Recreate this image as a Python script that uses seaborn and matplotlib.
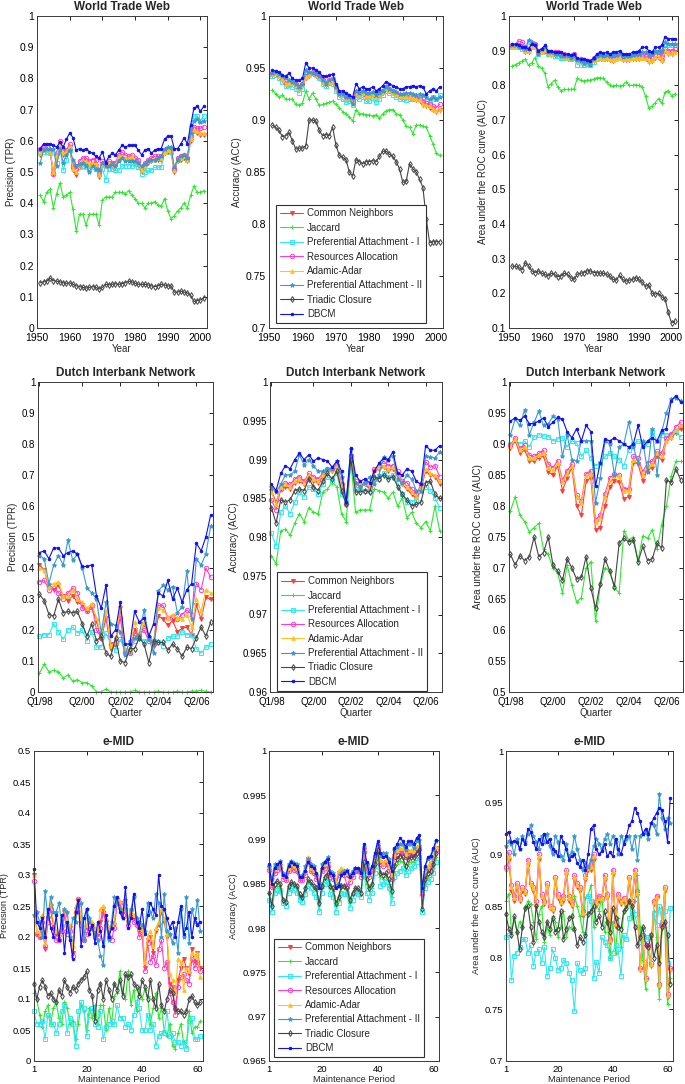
import numpy as np
import pandas as pd
import matplotlib
matplotlib.use("Agg")
import matplotlib.pyplot as plt
import seaborn as sns

sns.set_style("white")
plt.rcParams['font.family'] = ['Liberation Sans', 'DejaVu Sans']

# ---------------- categories ----------------
methods = ["Common Neighbors", "Jaccard", "Preferential Attachment - I",
           "Resources Allocation", "Adamic-Adar", "Preferential Attachment - II",
           "Triadic Closure", "DBCM"]
wtw_years = list(range(1951, 2002))
dib_quarters = list(range(1, 38))
dib_tick_pos = [1, 10, 18, 26, 34]
dib_tick_labels = ["Q1/98", "Q2/00", "Q2/02", "Q2/04", "Q2/06"]
emid_periods = list(range(1, 62))

# ---------------- World Trade Web : Precision ----------------
wtw_tpr_cn = [0.555,0.570,0.570,0.565,0.495,0.550,0.590,0.555,0.560,0.580,
              0.505,0.490,0.520,0.530,0.530,0.520,0.525,0.520,0.485,0.520,
              0.520,0.525,0.520,0.515,0.545,0.550,0.540,0.540,0.545,0.530,
              0.525,0.500,0.515,0.530,0.535,0.540,0.540,0.540,0.560,0.565,
              0.565,0.500,0.535,0.540,0.545,0.535,0.600,0.630,0.625,0.620,0.620]
wtw_tpr_jac = [0.425,0.405,0.435,0.445,0.385,0.430,0.465,0.420,0.425,0.435,
               0.380,0.310,0.365,0.365,0.330,0.365,0.365,0.365,0.330,0.410,
               0.420,0.420,0.420,0.435,0.435,0.435,0.430,0.440,0.425,0.415,
               0.400,0.400,0.385,0.400,0.400,0.405,0.395,0.390,0.415,0.375,
               0.350,0.360,0.375,0.385,0.400,0.385,0.425,0.455,0.435,0.435,0.440]
wtw_tpr_pa1 = [0.560,0.565,0.565,0.560,0.510,0.530,0.580,0.505,0.540,0.570,
               0.530,0.520,0.515,0.520,0.515,0.510,0.515,0.510,0.500,0.510,
               0.475,0.510,0.510,0.505,0.505,0.520,0.520,0.520,0.520,0.525,
               0.515,0.495,0.500,0.505,0.505,0.515,0.515,0.515,0.565,0.570,
               0.565,0.505,0.540,0.545,0.550,0.540,0.640,0.680,0.680,0.665,0.680]
wtw_tpr_ra = [0.575,0.580,0.580,0.570,0.495,0.560,0.600,0.570,0.570,0.590,
              0.520,0.510,0.535,0.545,0.545,0.535,0.540,0.540,0.500,0.535,
              0.530,0.535,0.530,0.530,0.555,0.565,0.555,0.550,0.555,0.545,
              0.540,0.515,0.530,0.540,0.545,0.550,0.550,0.550,0.570,0.575,
              0.575,0.510,0.545,0.550,0.555,0.545,0.615,0.645,0.640,0.640,0.645]
wtw_tpr_aa = [0.560,0.572,0.575,0.570,0.500,0.552,0.590,0.560,0.565,0.582,
              0.510,0.500,0.525,0.535,0.535,0.525,0.530,0.525,0.490,0.525,
              0.525,0.530,0.525,0.520,0.550,0.552,0.545,0.545,0.550,0.535,
              0.530,0.505,0.520,0.535,0.540,0.545,0.545,0.545,0.565,0.570,
              0.570,0.505,0.540,0.545,0.550,0.540,0.605,0.635,0.630,0.625,0.625]
wtw_tpr_pa2 = [0.530,0.570,0.575,0.575,0.575,0.520,0.575,0.530,0.555,0.570,
               0.540,0.520,0.525,0.530,0.520,0.500,0.520,0.510,0.505,0.530,
               0.520,0.520,0.525,0.520,0.535,0.545,0.535,0.535,0.535,0.535,
               0.530,0.520,0.525,0.535,0.540,0.540,0.545,0.550,0.575,0.580,
               0.580,0.515,0.540,0.550,0.555,0.545,0.625,0.665,0.670,0.660,0.665]
wtw_tpr_tc = [0.145,0.148,0.150,0.160,0.152,0.150,0.148,0.145,0.143,0.145,
              0.140,0.135,0.133,0.130,0.128,0.130,0.133,0.130,0.125,0.130,
              0.140,0.138,0.140,0.142,0.140,0.142,0.145,0.150,0.148,0.143,
              0.140,0.140,0.140,0.138,0.135,0.133,0.135,0.140,0.138,0.135,
              0.135,0.115,0.115,0.118,0.115,0.112,0.105,0.085,0.088,0.090,0.095]
wtw_tpr_dbcm = [0.575,0.590,0.590,0.590,0.585,0.580,0.595,0.580,0.605,0.625,
                0.610,0.570,0.575,0.570,0.575,0.565,0.560,0.550,0.545,0.565,
                0.530,0.550,0.560,0.555,0.570,0.585,0.580,0.585,0.585,0.585,
                0.570,0.555,0.570,0.575,0.560,0.570,0.575,0.575,0.605,0.615,
                0.615,0.575,0.575,0.590,0.610,0.590,0.650,0.705,0.710,0.695,0.710]

# ---------------- World Trade Web : Accuracy ----------------
wtw_acc_cn = [0.943,0.944,0.941,0.938,0.934,0.935,0.935,0.933,0.930,0.933,
              0.940,0.942,0.944,0.942,0.940,0.936,0.934,0.936,0.936,0.930,
              0.924,0.924,0.920,0.920,0.916,0.925,0.923,0.925,0.922,0.922,
              0.924,0.921,0.924,0.926,0.930,0.928,0.926,0.924,0.922,0.922,
              0.921,0.921,0.920,0.919,0.918,0.914,0.913,0.912,0.910,0.908,0.910]
wtw_acc_jac = [0.929,0.925,0.922,0.924,0.920,0.920,0.920,0.915,0.914,0.916,
               0.928,0.920,0.926,0.920,0.914,0.915,0.916,0.917,0.918,0.915,
               0.912,0.908,0.906,0.903,0.899,0.910,0.906,0.906,0.905,0.905,
               0.904,0.905,0.902,0.906,0.909,0.910,0.910,0.906,0.905,0.900,
               0.894,0.893,0.887,0.895,0.895,0.894,0.893,0.885,0.877,0.868,0.866]
wtw_acc_pa1 = [0.942,0.943,0.940,0.937,0.933,0.934,0.932,0.930,0.926,0.930,
               0.944,0.944,0.945,0.943,0.940,0.935,0.933,0.936,0.935,0.928,
               0.922,0.920,0.917,0.918,0.914,0.922,0.920,0.922,0.918,0.918,
               0.921,0.917,0.920,0.924,0.928,0.926,0.924,0.922,0.920,0.920,
               0.919,0.920,0.921,0.920,0.921,0.920,0.918,0.918,0.922,0.920,0.924]
wtw_acc_ra = [0.945,0.945,0.943,0.940,0.936,0.936,0.937,0.935,0.932,0.935,
              0.942,0.944,0.946,0.944,0.942,0.938,0.936,0.938,0.938,0.932,
              0.926,0.926,0.922,0.922,0.918,0.927,0.925,0.927,0.924,0.924,
              0.926,0.923,0.926,0.928,0.932,0.930,0.928,0.926,0.924,0.924,
              0.923,0.923,0.922,0.921,0.920,0.917,0.916,0.915,0.913,0.912,0.915]
wtw_acc_aa = [0.944,0.945,0.942,0.939,0.935,0.936,0.936,0.934,0.931,0.934,
              0.941,0.943,0.945,0.943,0.941,0.937,0.935,0.937,0.937,0.931,
              0.925,0.925,0.921,0.921,0.917,0.926,0.924,0.926,0.923,0.923,
              0.925,0.922,0.925,0.927,0.931,0.929,0.927,0.925,0.923,0.923,
              0.922,0.922,0.921,0.920,0.919,0.915,0.914,0.913,0.911,0.909,0.911]
wtw_acc_pa2 = [0.945,0.946,0.944,0.942,0.940,0.938,0.937,0.935,0.932,0.935,
               0.948,0.946,0.945,0.944,0.942,0.938,0.935,0.938,0.940,0.932,
               0.925,0.925,0.922,0.922,0.915,0.928,0.926,0.928,0.926,0.926,
               0.927,0.924,0.926,0.928,0.932,0.930,0.928,0.927,0.925,0.925,
               0.926,0.926,0.925,0.924,0.925,0.924,0.922,0.920,0.922,0.920,0.922]
wtw_acc_tc = [0.895,0.893,0.890,0.884,0.885,0.888,0.880,0.872,0.873,0.873,
              0.875,0.900,0.900,0.899,0.890,0.885,0.886,0.885,0.893,0.876,
              0.866,0.864,0.862,0.850,0.846,0.862,0.860,0.858,0.860,0.860,
              0.861,0.860,0.865,0.870,0.870,0.867,0.865,0.860,0.853,0.840,
              0.841,0.858,0.853,0.850,0.843,0.835,0.805,0.782,0.783,0.783,0.783]
wtw_acc_dbcm = [0.948,0.947,0.946,0.943,0.942,0.945,0.940,0.938,0.938,0.940,
                0.955,0.950,0.950,0.948,0.946,0.942,0.942,0.943,0.944,0.935,
                0.928,0.928,0.926,0.924,0.922,0.935,0.930,0.932,0.930,0.930,
                0.932,0.928,0.930,0.933,0.937,0.935,0.933,0.932,0.930,0.930,
                0.932,0.932,0.933,0.932,0.933,0.932,0.925,0.928,0.930,0.928,0.932]

# ---------------- World Trade Web : AUC ----------------
wtw_auc_cn = [0.910,0.910,0.910,0.908,0.895,0.895,0.910,0.910,0.890,0.895,
              0.900,0.890,0.888,0.888,0.890,0.880,0.880,0.876,0.876,0.882,
              0.868,0.868,0.865,0.865,0.862,0.870,0.875,0.878,0.875,0.875,
              0.872,0.870,0.875,0.878,0.872,0.874,0.874,0.876,0.876,0.875,
              0.878,0.875,0.868,0.870,0.880,0.880,0.870,0.900,0.890,0.890,0.895]
wtw_auc_jac = [0.855,0.860,0.865,0.870,0.875,0.858,0.865,0.880,0.855,0.850,
               0.835,0.795,0.805,0.815,0.795,0.785,0.788,0.788,0.788,0.790,
               0.820,0.815,0.812,0.815,0.815,0.818,0.822,0.822,0.820,0.810,
               0.800,0.798,0.800,0.798,0.800,0.810,0.800,0.800,0.802,0.800,
               0.795,0.768,0.735,0.740,0.750,0.762,0.748,0.780,0.785,0.770,0.775]
wtw_auc_pa1 = [0.910,0.912,0.910,0.905,0.900,0.925,0.915,0.910,0.890,0.895,
               0.900,0.890,0.890,0.885,0.885,0.878,0.880,0.878,0.876,0.880,
               0.860,0.858,0.860,0.862,0.858,0.868,0.875,0.878,0.875,0.880,
               0.878,0.878,0.880,0.885,0.878,0.880,0.880,0.882,0.885,0.885,
               0.890,0.890,0.885,0.885,0.895,0.895,0.900,0.920,0.915,0.915,0.915]
wtw_auc_ra = [0.915,0.915,0.928,0.925,0.910,0.905,0.915,0.920,0.900,0.900,
              0.900,0.895,0.895,0.895,0.895,0.890,0.890,0.885,0.885,0.890,
              0.875,0.875,0.872,0.870,0.870,0.878,0.882,0.885,0.882,0.885,
              0.882,0.880,0.885,0.888,0.880,0.882,0.882,0.885,0.885,0.885,
              0.888,0.885,0.880,0.882,0.890,0.895,0.885,0.905,0.900,0.900,0.905]
wtw_auc_aa = [0.912,0.912,0.913,0.910,0.898,0.898,0.912,0.912,0.893,0.897,
              0.902,0.892,0.890,0.890,0.892,0.883,0.883,0.879,0.879,0.884,
              0.870,0.870,0.867,0.867,0.864,0.872,0.877,0.880,0.877,0.878,
              0.875,0.873,0.877,0.880,0.875,0.876,0.876,0.878,0.878,0.878,
              0.880,0.878,0.871,0.873,0.882,0.883,0.873,0.902,0.893,0.893,0.897]
wtw_auc_pa2 = [0.915,0.915,0.910,0.910,0.905,0.930,0.925,0.920,0.890,0.905,
               0.910,0.895,0.895,0.890,0.890,0.885,0.885,0.885,0.880,0.885,
               0.872,0.870,0.865,0.868,0.860,0.875,0.885,0.888,0.885,0.888,
               0.885,0.888,0.888,0.892,0.882,0.885,0.885,0.888,0.890,0.890,
               0.895,0.895,0.890,0.890,0.900,0.900,0.900,0.925,0.920,0.920,0.920]
wtw_auc_tc = [0.278,0.278,0.275,0.268,0.288,0.280,0.265,0.260,0.265,0.258,
              0.255,0.250,0.258,0.255,0.248,0.250,0.258,0.255,0.245,0.240,
              0.255,0.258,0.260,0.265,0.265,0.260,0.260,0.258,0.258,0.255,
              0.250,0.240,0.238,0.252,0.240,0.235,0.238,0.240,0.245,0.240,
              0.232,0.220,0.225,0.200,0.198,0.200,0.190,0.185,0.145,0.115,0.120]
wtw_auc_dbcm = [0.920,0.918,0.915,0.912,0.910,0.905,0.920,0.915,0.900,0.905,
                0.915,0.900,0.900,0.895,0.895,0.895,0.890,0.890,0.888,0.890,
                0.878,0.875,0.875,0.872,0.870,0.878,0.890,0.895,0.892,0.895,
                0.890,0.895,0.895,0.900,0.890,0.890,0.890,0.895,0.895,0.900,
                0.910,0.910,0.900,0.895,0.910,0.910,0.915,0.940,0.935,0.935,0.935]

# ---------------- Dutch Interbank : Precision ----------------
dib_tpr_cn = [0.410,0.395,0.335,0.330,0.345,0.310,0.295,0.310,0.290,0.280,
              0.260,0.270,0.230,0.170,0.240,0.140,0.150,0.270,0.130,0.130,
              0.200,0.175,0.220,0.175,0.150,0.245,0.235,0.215,0.230,0.195,
              0.205,0.210,0.185,0.280,0.235,0.305,0.300]
dib_tpr_jac = [0.060,0.090,0.065,0.070,0.065,0.045,0.055,0.035,0.040,0.030,
               0.030,0.020,0.000,0.000,0.010,0.000,0.000,0.000,0.000,0.000,
               0.005,0.000,0.000,0.000,0.000,0.003,0.000,0.000,0.000,0.003,
               0.000,0.000,0.003,0.003,0.005,0.002,0.000]
dib_tpr_pa1 = [0.180,0.185,0.185,0.220,0.195,0.170,0.200,0.210,0.190,0.200,
               0.165,0.195,0.145,0.145,0.190,0.155,0.135,0.170,0.135,0.130,
               0.165,0.175,0.165,0.170,0.165,0.160,0.150,0.175,0.180,0.180,
               0.195,0.185,0.185,0.140,0.125,0.145,0.155]
dib_tpr_ra = [0.355,0.360,0.330,0.335,0.320,0.300,0.320,0.335,0.320,0.270,
              0.260,0.280,0.200,0.175,0.250,0.155,0.160,0.240,0.130,0.125,
              0.190,0.185,0.200,0.165,0.155,0.280,0.280,0.240,0.245,0.235,
              0.250,0.265,0.250,0.350,0.330,0.400,0.370]
dib_tpr_aa = [0.400,0.395,0.340,0.350,0.355,0.310,0.310,0.330,0.300,0.290,
              0.270,0.285,0.240,0.180,0.260,0.150,0.160,0.280,0.140,0.135,
              0.225,0.180,0.225,0.180,0.165,0.270,0.265,0.240,0.250,0.240,
              0.235,0.250,0.210,0.300,0.260,0.330,0.320]
dib_tpr_pa2 = [0.440,0.430,0.350,0.410,0.440,0.410,0.490,0.425,0.445,0.400,
               0.335,0.320,0.300,0.190,0.290,0.220,0.215,0.195,0.120,0.165,
               0.175,0.185,0.265,0.175,0.125,0.325,0.345,0.330,0.340,0.255,
               0.275,0.390,0.235,0.430,0.410,0.445,0.535]
dib_tpr_tc = [0.315,0.295,0.250,0.245,0.300,0.255,0.260,0.255,0.260,0.220,
              0.180,0.220,0.165,0.180,0.125,0.115,0.175,0.100,0.095,0.140,
              0.140,0.175,0.155,0.095,0.165,0.160,0.160,0.135,0.155,0.140,
              0.115,0.145,0.140,0.175,0.210,0.180,0.225]
dib_tpr_dbcm = [0.450,0.455,0.430,0.465,0.465,0.440,0.450,0.455,0.445,0.405,
                0.405,0.410,0.310,0.270,0.345,0.180,0.200,0.290,0.155,0.155,
                0.260,0.225,0.240,0.180,0.220,0.320,0.310,0.360,0.300,0.335,
                0.290,0.330,0.350,0.480,0.455,0.500,0.570]

# ---------------- Dutch Interbank : Accuracy ----------------
dib_acc_cn = [0.9860,0.9845,0.9862,0.9865,0.9862,0.9870,0.9872,0.9868,0.9878,0.9872,
              0.9870,0.9878,0.9885,0.9885,0.9890,0.9862,0.9842,0.9905,0.9868,0.9865,
              0.9868,0.9862,0.9885,0.9888,0.9890,0.9885,0.9888,0.9880,0.9868,0.9862,
              0.9855,0.9850,0.9862,0.9885,0.9880,0.9878,0.9868]
dib_acc_jac = [0.9776,0.9765,0.9808,0.9810,0.9802,0.9818,0.9830,0.9820,0.9838,0.9832,
               0.9830,0.9858,0.9862,0.9870,0.9865,0.9830,0.9820,0.9898,0.9832,0.9835,
               0.9835,0.9835,0.9862,0.9860,0.9858,0.9850,0.9858,0.9840,0.9850,0.9825,
               0.9832,0.9818,0.9812,0.9820,0.9808,0.9840,0.9808]
dib_acc_pa1 = [0.9805,0.9788,0.9832,0.9840,0.9830,0.9845,0.9858,0.9852,0.9865,0.9862,
               0.9855,0.9868,0.9878,0.9872,0.9882,0.9855,0.9845,0.9895,0.9862,0.9862,
               0.9860,0.9860,0.9875,0.9875,0.9882,0.9878,0.9880,0.9870,0.9855,0.9845,
               0.9845,0.9848,0.9860,0.9865,0.9860,0.9850,0.9838]
dib_acc_ra = [0.9848,0.9835,0.9862,0.9870,0.9868,0.9875,0.9878,0.9872,0.9882,0.9878,
              0.9875,0.9882,0.9888,0.9888,0.9893,0.9868,0.9843,0.9905,0.9872,0.9868,
              0.9870,0.9865,0.9888,0.9890,0.9898,0.9892,0.9892,0.9885,0.9872,0.9870,
              0.9862,0.9855,0.9868,0.9897,0.9890,0.9892,0.9878]
dib_acc_aa = [0.9858,0.9842,0.9865,0.9868,0.9865,0.9872,0.9875,0.9870,0.9880,0.9875,
              0.9872,0.9880,0.9886,0.9887,0.9892,0.9865,0.9843,0.9906,0.9870,0.9867,
              0.9870,0.9865,0.9887,0.9890,0.9892,0.9888,0.9890,0.9882,0.9870,0.9865,
              0.9858,0.9852,0.9865,0.9888,0.9882,0.9880,0.9872]
dib_acc_pa2 = [0.9865,0.9858,0.9868,0.9880,0.9880,0.9885,0.9906,0.9893,0.9900,0.9892,
               0.9885,0.9885,0.9888,0.9888,0.9898,0.9878,0.9842,0.9913,0.9870,0.9865,
               0.9870,0.9878,0.9868,0.9880,0.9903,0.9900,0.9905,0.9875,0.9870,0.9880,
               0.9875,0.9860,0.9860,0.9905,0.9903,0.9902,0.9910]
dib_acc_tc = [0.9838,0.9818,0.9848,0.9845,0.9848,0.9860,0.9862,0.9860,0.9875,0.9865,
              0.9860,0.9872,0.9882,0.9875,0.9885,0.9860,0.9842,0.9900,0.9858,0.9858,
              0.9860,0.9858,0.9878,0.9875,0.9880,0.9875,0.9878,0.9865,0.9855,0.9848,
              0.9840,0.9842,0.9845,0.9870,0.9872,0.9855,0.9850]
dib_acc_dbcm = [0.9868,0.9860,0.9882,0.9892,0.9888,0.9900,0.9908,0.9900,0.9906,0.9898,
                0.9902,0.9900,0.9898,0.9890,0.9898,0.9885,0.9845,0.9915,0.9880,0.9872,
                0.9875,0.9870,0.9885,0.9895,0.9902,0.9900,0.9910,0.9882,0.9880,0.9888,
                0.9885,0.9872,0.9868,0.9918,0.9912,0.9912,0.9918]

# ---------------- Dutch Interbank : AUC ----------------
dib_auc_cn = [0.893,0.905,0.885,0.890,0.873,0.872,0.878,0.880,0.855,0.850,
              0.865,0.825,0.845,0.862,0.800,0.785,0.840,0.845,0.762,0.765,
              0.800,0.830,0.840,0.838,0.812,0.815,0.870,0.868,0.840,0.860,
              0.862,0.880,0.875,0.905,0.910,0.918,0.925]
dib_auc_jac = [0.792,0.815,0.785,0.775,0.758,0.765,0.772,0.730,0.722,0.700,
               0.692,0.660,0.705,0.672,0.645,0.652,0.700,0.710,0.615,0.672,
               0.700,0.695,0.668,0.660,0.760,0.745,0.750,0.712,0.752,0.748,
               0.762,0.730,0.770,0.800,0.848,0.872,0.872]
dib_auc_pa1 = [0.900,0.905,0.900,0.905,0.895,0.912,0.915,0.913,0.912,0.905,
               0.908,0.910,0.895,0.905,0.902,0.880,0.890,0.878,0.865,0.870,
               0.880,0.885,0.880,0.875,0.865,0.890,0.900,0.905,0.900,0.900,
               0.920,0.905,0.915,0.915,0.915,0.920,0.912]
dib_auc_ra = [0.898,0.910,0.893,0.898,0.882,0.880,0.885,0.890,0.868,0.862,
              0.873,0.842,0.857,0.868,0.818,0.808,0.852,0.857,0.778,0.785,
              0.820,0.845,0.852,0.850,0.828,0.828,0.880,0.877,0.855,0.870,
              0.872,0.888,0.885,0.910,0.916,0.928,0.935]
dib_auc_aa = [0.897,0.908,0.890,0.895,0.878,0.877,0.882,0.885,0.862,0.858,
              0.870,0.838,0.852,0.865,0.815,0.805,0.848,0.852,0.775,0.780,
              0.815,0.840,0.848,0.848,0.825,0.825,0.875,0.872,0.850,0.865,
              0.868,0.885,0.880,0.905,0.912,0.922,0.930]
dib_auc_pa2 = [0.915,0.940,0.930,0.955,0.915,0.935,0.953,0.930,0.932,0.945,
               0.940,0.880,0.915,0.875,0.872,0.905,0.905,0.905,0.805,0.845,
               0.905,0.900,0.850,0.895,0.900,0.935,0.895,0.870,0.905,0.855,
               0.925,0.850,0.920,0.950,0.972,0.975,0.970]
dib_auc_tc = [0.722,0.705,0.720,0.712,0.718,0.750,0.718,0.725,0.750,0.705,
              0.695,0.680,0.715,0.700,0.682,0.685,0.718,0.668,0.635,0.675,
              0.715,0.695,0.670,0.740,0.748,0.742,0.745,0.710,0.735,0.712,
              0.715,0.740,0.732,0.842,0.838,0.860,0.842]
dib_auc_dbcm = [0.937,0.942,0.938,0.945,0.933,0.933,0.937,0.942,0.928,0.935,
                0.943,0.940,0.920,0.910,0.925,0.905,0.930,0.920,0.832,0.870,
                0.908,0.905,0.910,0.905,0.900,0.895,0.900,0.930,0.895,0.905,
                0.910,0.905,0.922,0.925,0.970,0.978,0.968]

# ---------------- e-MID : Precision ----------------
emid_tpr_cn = [0.300,0.205,0.200,0.230,0.180,0.230,0.250,0.220,0.205,0.200,
               0.215,0.240,0.210,0.215,0.175,0.245,0.260,0.225,0.200,0.215,
               0.225,0.220,0.210,0.205,0.225,0.245,0.225,0.210,0.215,0.220,
               0.260,0.255,0.240,0.250,0.225,0.240,0.230,0.225,0.210,0.215,
               0.150,0.195,0.200,0.175,0.210,0.220,0.240,0.225,0.200,0.125,
               0.120,0.080,0.130,0.150,0.165,0.150,0.140,0.180,0.160,0.175,0.150]
emid_tpr_jac = [0.110,0.100,0.075,0.055,0.080,0.090,0.060,0.085,0.095,0.070,
                0.060,0.095,0.085,0.060,0.065,0.035,0.060,0.090,0.080,0.050,
                0.085,0.070,0.090,0.060,0.090,0.090,0.050,0.085,0.060,0.105,
                0.110,0.145,0.110,0.100,0.145,0.090,0.115,0.080,0.120,0.100,
                0.115,0.105,0.060,0.085,0.110,0.070,0.085,0.050,0.040,0.060,
                0.025,0.020,0.045,0.060,0.030,0.025,0.080,0.045,0.055,0.055,0.065]
emid_tpr_pa1 = [0.080,0.060,0.060,0.065,0.035,0.075,0.060,0.060,0.045,0.060,
                0.080,0.090,0.045,0.070,0.060,0.025,0.080,0.095,0.085,0.040,
                0.075,0.085,0.060,0.055,0.080,0.035,0.055,0.060,0.065,0.060,
                0.090,0.070,0.070,0.055,0.060,0.050,0.075,0.095,0.085,0.050,
                0.050,0.075,0.050,0.060,0.025,0.040,0.045,0.045,0.080,0.040,
                0.045,0.030,0.030,0.025,0.030,0.020,0.065,0.070,0.035,0.035,0.040]
emid_tpr_ra = [0.290,0.205,0.200,0.225,0.185,0.225,0.245,0.215,0.195,0.195,
               0.210,0.235,0.205,0.210,0.170,0.240,0.262,0.220,0.195,0.205,
               0.215,0.215,0.200,0.200,0.215,0.240,0.220,0.200,0.195,0.215,
               0.255,0.255,0.235,0.245,0.220,0.235,0.225,0.220,0.200,0.205,
               0.145,0.190,0.160,0.170,0.155,0.180,0.195,0.150,0.160,0.110,
               0.095,0.075,0.120,0.135,0.140,0.130,0.125,0.165,0.150,0.160,0.145]
emid_tpr_aa = [0.300,0.210,0.205,0.235,0.190,0.235,0.255,0.225,0.210,0.205,
               0.220,0.245,0.215,0.220,0.185,0.250,0.262,0.230,0.205,0.220,
               0.230,0.225,0.215,0.210,0.245,0.250,0.230,0.215,0.220,0.225,
               0.262,0.258,0.245,0.255,0.230,0.245,0.235,0.230,0.215,0.220,
               0.160,0.200,0.210,0.185,0.215,0.225,0.245,0.230,0.205,0.140,
               0.130,0.110,0.165,0.160,0.115,0.150,0.145,0.175,0.170,0.175,0.135]
emid_tpr_pa2 = [0.235,0.240,0.225,0.200,0.275,0.230,0.265,0.240,0.240,0.255,
                0.220,0.245,0.240,0.200,0.230,0.225,0.250,0.255,0.195,0.245,
                0.230,0.215,0.205,0.195,0.170,0.155,0.225,0.195,0.225,0.265,
                0.255,0.245,0.230,0.260,0.225,0.245,0.265,0.230,0.225,0.220,
                0.210,0.255,0.240,0.230,0.270,0.255,0.200,0.270,0.210,0.205,
                0.190,0.215,0.175,0.245,0.200,0.265,0.190,0.245,0.225,0.260,0.210]
emid_tpr_tc = [0.125,0.100,0.120,0.130,0.120,0.105,0.110,0.100,0.095,0.115,
               0.105,0.130,0.120,0.110,0.120,0.115,0.125,0.130,0.135,0.145,
               0.115,0.105,0.065,0.115,0.125,0.100,0.130,0.115,0.100,0.125,
               0.115,0.130,0.105,0.140,0.135,0.140,0.125,0.120,0.105,0.130,
               0.120,0.100,0.130,0.100,0.085,0.125,0.090,0.080,0.100,0.115,
               0.110,0.085,0.080,0.080,0.075,0.080,0.100,0.105,0.095,0.090,0.095]
emid_tpr_dbcm = [0.310,0.225,0.215,0.230,0.200,0.245,0.215,0.200,0.235,0.195,
                 0.235,0.175,0.225,0.195,0.165,0.240,0.260,0.185,0.230,0.245,
                 0.205,0.220,0.190,0.225,0.210,0.185,0.235,0.200,0.215,0.250,
                 0.265,0.240,0.230,0.280,0.215,0.230,0.270,0.225,0.215,0.245,
                 0.205,0.235,0.255,0.245,0.235,0.300,0.250,0.245,0.230,0.215,
                 0.225,0.200,0.225,0.250,0.205,0.215,0.240,0.200,0.230,0.220,0.225]

# ---------------- e-MID : Accuracy ----------------
emid_acc_cn = [0.9868,0.9848,0.9865,0.9868,0.9870,0.9858,0.9856,0.9866,0.9870,0.9868,
               0.9866,0.9856,0.9856,0.9862,0.9878,0.9866,0.9864,0.9858,0.9850,0.9866,
               0.9870,0.9872,0.9860,0.9858,0.9850,0.9862,0.9865,0.9862,0.9860,0.9855,
               0.9860,0.9866,0.9866,0.9860,0.9888,0.9870,0.9860,0.9866,0.9880,0.9892,
               0.9875,0.9872,0.9875,0.9868,0.9858,0.9882,0.9886,0.9888,0.9888,0.9882,
               0.9886,0.9886,0.9885,0.9890,0.9892,0.9840,0.9862,0.9868,0.9872,0.9880,0.9890]
emid_acc_jac = [0.9840,0.9825,0.9845,0.9848,0.9845,0.9830,0.9828,0.9845,0.9850,0.9848,
                0.9845,0.9835,0.9833,0.9842,0.9852,0.9850,0.9845,0.9842,0.9822,0.9845,
                0.9855,0.9858,0.9845,0.9842,0.9825,0.9832,0.9845,0.9845,0.9842,0.9828,
                0.9838,0.9845,0.9842,0.9838,0.9870,0.9850,0.9842,0.9845,0.9868,0.9885,
                0.9858,0.9856,0.9858,0.9850,0.9835,0.9865,0.9872,0.9876,0.9875,0.9865,
                0.9872,0.9875,0.9875,0.9880,0.9885,0.9820,0.9850,0.9858,0.9860,0.9868,0.9880]
emid_acc_pa1 = [0.9832,0.9818,0.9840,0.9843,0.9842,0.9828,0.9825,0.9840,0.9845,0.9843,
                0.9840,0.9832,0.9830,0.9838,0.9848,0.9845,0.9840,0.9835,0.9818,0.9840,
                0.9850,0.9852,0.9838,0.9835,0.9818,0.9828,0.9840,0.9838,0.9838,0.9823,
                0.9832,0.9840,0.9838,0.9835,0.9865,0.9840,0.9832,0.9840,0.9862,0.9880,
                0.9848,0.9850,0.9852,0.9845,0.9828,0.9858,0.9862,0.9865,0.9868,0.9860,
                0.9865,0.9868,0.9870,0.9875,0.9880,0.9818,0.9845,0.9852,0.9855,0.9862,0.9875]
emid_acc_ra = [0.9866,0.9846,0.9862,0.9866,0.9868,0.9856,0.9854,0.9864,0.9868,0.9866,
               0.9864,0.9854,0.9854,0.9860,0.9876,0.9864,0.9862,0.9856,0.9848,0.9864,
               0.9868,0.9870,0.9858,0.9856,0.9848,0.9860,0.9862,0.9860,0.9848,0.9852,
               0.9858,0.9864,0.9864,0.9858,0.9886,0.9868,0.9858,0.9864,0.9878,0.9890,
               0.9872,0.9870,0.9872,0.9866,0.9855,0.9880,0.9884,0.9886,0.9886,0.9880,
               0.9884,0.9884,0.9883,0.9888,0.9890,0.9838,0.9860,0.9866,0.9870,0.9878,0.9888]
emid_acc_aa = [0.9870,0.9850,0.9867,0.9870,0.9872,0.9860,0.9858,0.9868,0.9872,0.9870,
               0.9868,0.9858,0.9858,0.9864,0.9880,0.9868,0.9866,0.9860,0.9852,0.9868,
               0.9872,0.9874,0.9862,0.9860,0.9852,0.9865,0.9868,0.9866,0.9862,0.9857,
               0.9862,0.9868,0.9868,0.9862,0.9890,0.9872,0.9862,0.9868,0.9882,0.9894,
               0.9877,0.9874,0.9877,0.9870,0.9860,0.9884,0.9888,0.9890,0.9890,0.9884,
               0.9888,0.9888,0.9887,0.9892,0.9894,0.9842,0.9864,0.9870,0.9874,0.9882,0.9892]
emid_acc_pa2 = [0.9870,0.9855,0.9872,0.9870,0.9876,0.9862,0.9860,0.9872,0.9876,0.9874,
                0.9872,0.9858,0.9860,0.9870,0.9878,0.9872,0.9870,0.9860,0.9850,0.9872,
                0.9875,0.9880,0.9865,0.9862,0.9848,0.9850,0.9862,0.9865,0.9866,0.9860,
                0.9865,0.9868,0.9866,0.9864,0.9892,0.9872,0.9862,0.9868,0.9882,0.9895,
                0.9882,0.9885,0.9885,0.9878,0.9868,0.9888,0.9892,0.9895,0.9895,0.9888,
                0.9895,0.9895,0.9890,0.9898,0.9900,0.9842,0.9868,0.9878,0.9880,0.9888,0.9898]
emid_acc_tc = [0.9840,0.9825,0.9850,0.9853,0.9850,0.9832,0.9830,0.9848,0.9852,0.9850,
               0.9848,0.9838,0.9835,0.9845,0.9855,0.9852,0.9848,0.9845,0.9828,0.9848,
               0.9858,0.9862,0.9848,0.9845,0.9828,0.9835,0.9848,0.9848,0.9845,0.9832,
               0.9840,0.9845,0.9845,0.9840,0.9875,0.9855,0.9845,0.9850,0.9872,0.9888,
               0.9862,0.9860,0.9862,0.9855,0.9842,0.9870,0.9878,0.9882,0.9880,0.9870,
               0.9878,0.9880,0.9880,0.9885,0.9888,0.9822,0.9855,0.9862,0.9865,0.9872,0.9885]
emid_acc_dbcm = [0.9872,0.9850,0.9868,0.9872,0.9875,0.9860,0.9858,0.9870,0.9875,0.9872,
                 0.9870,0.9858,0.9858,0.9865,0.9875,0.9870,0.9868,0.9862,0.9845,0.9868,
                 0.9875,0.9878,0.9862,0.9860,0.9845,0.9848,0.9860,0.9862,0.9865,0.9858,
                 0.9862,0.9868,0.9868,0.9862,0.9895,0.9875,0.9862,0.9870,0.9885,0.9898,
                 0.9885,0.9880,0.9882,0.9875,0.9865,0.9890,0.9895,0.9902,0.9898,0.9892,
                 0.9898,0.9898,0.9895,0.9902,0.9905,0.9845,0.9870,0.9880,0.9882,0.9890,0.9900]

# ---------------- e-MID : AUC ----------------
emid_auc_cn = [0.885,0.895,0.865,0.855,0.868,0.855,0.865,0.862,0.890,0.870,
               0.865,0.850,0.895,0.858,0.852,0.868,0.848,0.845,0.875,0.858,
               0.852,0.855,0.880,0.855,0.850,0.875,0.868,0.865,0.840,0.875,
               0.885,0.885,0.895,0.850,0.855,0.855,0.875,0.858,0.815,0.880,
               0.830,0.858,0.852,0.855,0.850,0.875,0.852,0.880,0.860,0.788,
               0.820,0.778,0.810,0.792,0.852,0.858,0.772,0.830,0.865,0.762,0.788]
emid_auc_jac = [0.855,0.862,0.825,0.838,0.825,0.835,0.830,0.848,0.855,0.852,
                0.835,0.818,0.842,0.850,0.815,0.830,0.822,0.840,0.835,0.820,
                0.830,0.845,0.820,0.830,0.828,0.860,0.850,0.840,0.825,0.858,
                0.860,0.870,0.830,0.852,0.845,0.860,0.825,0.838,0.800,0.835,
                0.805,0.838,0.810,0.845,0.850,0.855,0.838,0.855,0.880,0.830,
                0.798,0.770,0.808,0.792,0.845,0.820,0.760,0.848,0.830,0.755,0.780]
emid_auc_pa1 = [0.820,0.822,0.778,0.802,0.805,0.810,0.818,0.818,0.805,0.812,
                0.792,0.805,0.808,0.795,0.810,0.782,0.790,0.808,0.800,0.788,
                0.790,0.798,0.795,0.785,0.778,0.748,0.795,0.788,0.785,0.790,
                0.860,0.855,0.780,0.796,0.785,0.820,0.815,0.812,0.800,0.805,
                0.812,0.808,0.782,0.822,0.818,0.838,0.845,0.842,0.830,0.815,
                0.828,0.818,0.820,0.822,0.842,0.832,0.850,0.835,0.845,0.795,0.848]
emid_auc_ra = [0.888,0.902,0.870,0.860,0.872,0.858,0.868,0.865,0.895,0.872,
               0.868,0.855,0.900,0.862,0.855,0.872,0.850,0.848,0.878,0.862,
               0.855,0.860,0.885,0.860,0.855,0.880,0.872,0.868,0.845,0.880,
               0.888,0.890,0.900,0.855,0.860,0.858,0.880,0.862,0.818,0.885,
               0.835,0.862,0.855,0.858,0.855,0.878,0.855,0.885,0.865,0.790,
               0.822,0.780,0.812,0.795,0.855,0.860,0.775,0.832,0.868,0.765,0.790]
emid_auc_aa = [0.887,0.898,0.868,0.858,0.870,0.857,0.867,0.864,0.893,0.871,
               0.867,0.853,0.898,0.860,0.854,0.870,0.849,0.847,0.877,0.860,
               0.854,0.858,0.883,0.858,0.852,0.878,0.870,0.867,0.843,0.878,
               0.887,0.888,0.898,0.853,0.858,0.857,0.878,0.860,0.817,0.883,
               0.833,0.860,0.854,0.857,0.853,0.877,0.854,0.883,0.863,0.789,
               0.821,0.779,0.811,0.794,0.854,0.859,0.774,0.831,0.867,0.764,0.789]
emid_auc_pa2 = [0.908,0.913,0.910,0.900,0.915,0.905,0.918,0.912,0.920,0.928,
                0.918,0.912,0.905,0.918,0.912,0.920,0.908,0.900,0.918,0.912,
                0.898,0.895,0.910,0.898,0.902,0.918,0.905,0.895,0.885,0.892,
                0.888,0.895,0.908,0.915,0.910,0.905,0.915,0.920,0.910,0.918,
                0.912,0.900,0.918,0.912,0.915,0.918,0.905,0.918,0.895,0.918,
                0.920,0.922,0.915,0.930,0.928,0.920,0.958,0.935,0.925,0.935,0.930]
emid_auc_tc = [0.842,0.828,0.822,0.840,0.825,0.808,0.830,0.848,0.850,0.830,
               0.815,0.850,0.835,0.825,0.820,0.835,0.828,0.838,0.825,0.828,
               0.845,0.818,0.828,0.838,0.840,0.828,0.812,0.820,0.815,0.822,
               0.842,0.845,0.850,0.835,0.840,0.830,0.845,0.835,0.825,0.848,
               0.838,0.830,0.828,0.845,0.848,0.855,0.850,0.830,0.812,0.820,
               0.830,0.812,0.810,0.822,0.800,0.812,0.795,0.830,0.835,0.822,0.775]
emid_auc_dbcm = [0.920,0.922,0.912,0.913,0.912,0.905,0.915,0.910,0.925,0.922,
                 0.912,0.905,0.915,0.910,0.920,0.912,0.915,0.905,0.903,0.898,
                 0.918,0.912,0.905,0.895,0.898,0.900,0.892,0.888,0.895,0.885,
                 0.900,0.925,0.928,0.905,0.900,0.903,0.910,0.898,0.902,0.898,
                 0.915,0.905,0.900,0.910,0.918,0.928,0.932,0.945,0.940,0.932,
                 0.920,0.925,0.920,0.930,0.935,0.940,0.945,0.943,0.932,0.912,0.955]

# ---------------- styling ----------------
styles = {
    "Common Neighbors": dict(color="#FF3C3C", marker="v", mfc="#FF3C3C", ms=2.8),
    "Jaccard": dict(color="#2EE82E", marker="+", mfc="#2EE82E", ms=3.4),
    "Preferential Attachment - I": dict(color="#30E8F0", marker="s", mfc="none", ms=3.2),
    "Resources Allocation": dict(color="#FF3CC8", marker="o", mfc="none", ms=3.2),
    "Adamic-Adar": dict(color="#FFC21A", marker="^", mfc="#FFC21A", ms=2.6),
    "Preferential Attachment - II": dict(color="#3A9AD0", marker="*", mfc="#3A9AD0", ms=3.2),
    "Triadic Closure": dict(color="#444444", marker="d", mfc="none", ms=3.0),
    "DBCM": dict(color="#1010F0", marker=".", mfc="#1010F0", ms=3.6),
}

W, H = 685, 1084
fig = plt.figure(figsize=(W / 100, H / 100), dpi=100)


def rect(x0, y0, x1, y1):
    return [x0 / W, 1 - y1 / H, (x1 - x0) / W, (y1 - y0) / H]


row_fonts = {"wtw": dict(tick=7.5, lab=7.0, leg=7.0, xpad=3.5),
             "dib": dict(tick=7.0, lab=7.0, leg=7.0, xpad=3.5),
             "emid": dict(tick=6.8, lab=6.6, leg=7.0, xpad=3.0)}

panels = [
    # row 1
    dict(r=rect(37, 16, 207, 328), title="World Trade Web", x=wtw_years, xlab="Year",
         ylab="Precision (TPR)", ylim=(0, 1), yticks=np.arange(0, 1.001, 0.1),
         series=[wtw_tpr_cn, wtw_tpr_jac, wtw_tpr_pa1, wtw_tpr_ra, wtw_tpr_aa, wtw_tpr_pa2, wtw_tpr_tc, wtw_tpr_dbcm],
         kind="wtw", legend=None),
    dict(r=rect(269, 16, 443, 328), title="World Trade Web", x=wtw_years, xlab="Year",
         ylab="Accuracy (ACC)", ylim=(0.7, 1), yticks=np.arange(0.7, 1.001, 0.05),
         series=[wtw_acc_cn, wtw_acc_jac, wtw_acc_pa1, wtw_acc_ra, wtw_acc_aa, wtw_acc_pa2, wtw_acc_tc, wtw_acc_dbcm],
         kind="wtw", legend=(0.040, 0.016)),
    dict(r=rect(509, 16, 678, 328), title="World Trade Web", x=wtw_years, xlab="Year",
         ylab="Area under the ROC curve (AUC)", ylim=(0.1, 1), yticks=np.arange(0.1, 1.001, 0.1),
         series=[wtw_auc_cn, wtw_auc_jac, wtw_auc_pa1, wtw_auc_ra, wtw_auc_aa, wtw_auc_pa2, wtw_auc_tc, wtw_auc_dbcm],
         kind="wtw", legend=None),
    # row 2
    dict(r=rect(38, 382, 213, 692), title="Dutch Interbank Network", x=dib_quarters, xlab="Quarter",
         ylab="Precision (TPR)", ylim=(0, 1), yticks=np.arange(0, 1.001, 0.1),
         series=[dib_tpr_cn, dib_tpr_jac, dib_tpr_pa1, dib_tpr_ra, dib_tpr_aa, dib_tpr_pa2, dib_tpr_tc, dib_tpr_dbcm],
         kind="dib", legend=None),
    dict(r=rect(270, 382, 442, 692), title="Dutch Interbank Network", x=dib_quarters, xlab="Quarter",
         ylab="Accuracy (ACC)", ylim=(0.96, 1), yticks=np.arange(0.96, 1.0001, 0.005),
         series=[dib_acc_cn, dib_acc_jac, dib_acc_pa1, dib_acc_ra, dib_acc_aa, dib_acc_pa2, dib_acc_tc, dib_acc_dbcm],
         kind="dib", legend=(0.041, 0.004)),
    dict(r=rect(509, 382, 683, 692), title="Dutch Interbank Network", x=dib_quarters, xlab="Quarter",
         ylab="Area under the ROC curve (AUC)", ylim=(0.5, 1), yticks=np.arange(0.5, 1.001, 0.05),
         series=[dib_auc_cn, dib_auc_jac, dib_auc_pa1, dib_auc_ra, dib_auc_aa, dib_auc_pa2, dib_auc_tc, dib_auc_dbcm],
         kind="dib", legend=None),
    # row 3
    dict(r=rect(34, 751, 203, 1061), title="e-MID", x=emid_periods, xlab="Maintenance Period",
         ylab="Precision (TPR)", ylim=(0, 0.5), yticks=np.arange(0, 0.5001, 0.05),
         series=[emid_tpr_cn, emid_tpr_jac, emid_tpr_pa1, emid_tpr_ra, emid_tpr_aa, emid_tpr_pa2, emid_tpr_tc, emid_tpr_dbcm],
         kind="emid", legend=None),
    dict(r=rect(269, 751, 439, 1061), title="e-MID", x=emid_periods, xlab="Maintenance Period",
         ylab="Accuracy (ACC)", ylim=(0.965, 1), yticks=np.arange(0.965, 1.0001, 0.005),
         series=[emid_acc_cn, emid_acc_jac, emid_acc_pa1, emid_acc_ra, emid_acc_aa, emid_acc_pa2, emid_acc_tc, emid_acc_dbcm],
         kind="emid", legend=(0.030, 0.013)),
    dict(r=rect(506, 751, 673, 1061), title="e-MID", x=emid_periods, xlab="Maintenance Period",
         ylab="Area under the ROC curve (AUC)", ylim=(0.7, 1), yticks=np.arange(0.7, 1.001, 0.05),
         series=[emid_auc_cn, emid_auc_jac, emid_auc_pa1, emid_auc_ra, emid_auc_aa, emid_auc_pa2, emid_auc_tc, emid_auc_dbcm],
         kind="emid", legend=None),
]

spine_col = "#3a3a3a"
for p in panels:
    fs = row_fonts[p["kind"]]
    ax = fig.add_axes(p["r"])
    handles = []
    for name, vals in zip(methods, p["series"]):
        st = styles[name]
        xs = p["x"][:len(vals)]
        df = pd.DataFrame({"x": xs, "y": vals[:len(xs)]})
        sns.lineplot(data=df, x="x", y="y", ax=ax, color=st["color"], marker=st["marker"],
                     markersize=st["ms"], markerfacecolor=st["mfc"], markeredgecolor=st["color"],
                     markeredgewidth=0.7, linewidth=0.8, estimator=None, errorbar=None,
                     legend=False, clip_on=False)
        handles.append(ax.get_lines()[-1])
    ax.set_ylim(*p["ylim"])
    ax.set_yticks(p["yticks"])
    ax.set_yticklabels(["%g" % round(v, 4) for v in p["yticks"]])
    if p["kind"] == "wtw":
        ax.set_xlim(1950, 2002)
        ax.set_xticks([1950, 1960, 1970, 1980, 1990, 2000])
        ax.set_xticklabels(["1950", "1960", "1970", "1980", "1990", "2000"])
    elif p["kind"] == "dib":
        ax.set_xlim(0.7, 37.5)
        ax.set_xticks(dib_tick_pos)
        ax.set_xticklabels(dib_tick_labels)
    else:
        ax.set_xlim(1, 62)
        ax.set_xticks([1, 20, 40, 60])
        ax.set_xticklabels(["1", "20", "40", "60"])
    ax.set_title(p["title"], fontsize=8.5, fontweight="bold", pad=4)
    ax.set_xlabel(p["xlab"], fontsize=fs["lab"], labelpad=0.5)
    ax.set_ylabel(p["ylab"], fontsize=fs["lab"], labelpad=3)
    ax.tick_params(direction="in", length=3, width=0.6, top=True, right=True,
                   labelsize=fs["tick"], pad=2, colors="black")
    ax.tick_params(axis="x", pad=fs["xpad"])
    for s in ax.spines.values():
        s.set_color(spine_col)
        s.set_linewidth(0.7)
        s.set_visible(True)
    ax.set_facecolor("white")
    if p["legend"] is not None:
        leg = ax.legend(handles, methods, loc="lower left", bbox_to_anchor=p["legend"],
                        borderaxespad=0, fontsize=fs["leg"], frameon=True, fancybox=False,
                        framealpha=1, edgecolor="#303030", labelspacing=0.45,
                        handlelength=2.4, handletextpad=0.4, borderpad=0.4)
        leg.get_frame().set_linewidth(0.8)

fig.savefig("out.png", dpi=100, facecolor="white")
